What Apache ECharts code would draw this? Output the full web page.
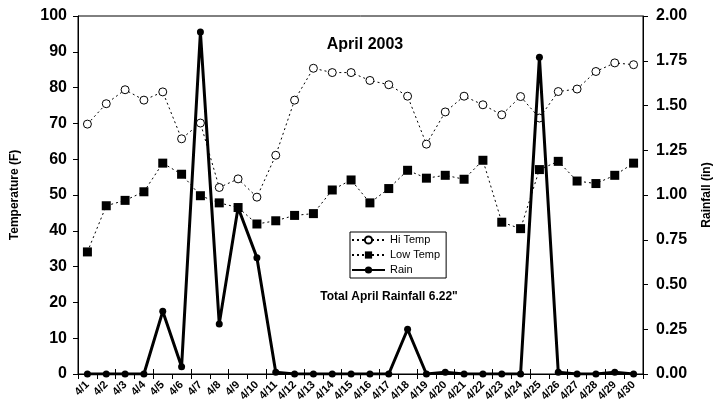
<!DOCTYPE html>
<html><head><meta charset="utf-8">
<script src="https://cdn.jsdelivr.net/npm/echarts@6/dist/echarts.min.js"></script>
<style>html,body{margin:0;padding:0;background:#fff}#c{width:725px;height:413px}</style>
</head><body><div id="c"></div>
<script>
const days = ['4/1','4/2','4/3','4/4','4/5','4/6','4/7','4/8','4/9','4/10','4/11','4/12','4/13','4/14','4/15','4/16','4/17','4/18','4/19','4/20','4/21','4/22','4/23','4/24','4/25','4/26','4/27','4/28','4/29','4/30'];
const hiTemp = [69.8,75.5,79.4,76.5,78.8,65.7,70.1,52.1,54.5,49.4,61.1,76.5,85.4,84.2,84.2,82.0,80.8,77.6,64.2,73.2,77.6,75.2,72.4,77.5,71.5,78.9,79.6,84.5,86.9,86.4];
const lowTemp = [34.1,47.0,48.5,50.9,58.9,55.8,49.8,47.8,46.5,41.9,42.8,44.3,44.8,51.4,54.2,47.8,51.8,56.9,54.7,55.5,54.4,59.7,42.4,40.6,57.1,59.4,53.9,53.2,55.5,58.9];
const rain = [0,0,0,0,0.35,0.04,1.91,0.28,0.93,0.65,0.01,0,0,0,0,0,0,0.25,0,0.01,0,0,0,0,1.77,0.01,0,0,0.01,0];
const tempTicks = {min:0, max:100, interval:10};
const rainTicks = {min:0, max:2, interval:0.25};
const titleText = 'April 2003';
const noteText = 'Total April Rainfall 6.22"';

const F = 'Liberation Sans, Arial, sans-serif';
const chart = echarts.init(document.getElementById('c'));
chart.setOption({
  animation:false,
  backgroundColor:'#fff',
  grid:{left:78,right:82,top:16,bottom:39,show:true,borderColor:'#000',borderWidth:1,outerBoundsMode:'none'},
  title:[
    {text:titleText,left:360,top:32,textAlign:'center',textStyle:{fontFamily:F,fontWeight:'bold',fontSize:16,color:'#000'}},
    {text:noteText,left:384,top:286,textAlign:'center',textStyle:{fontFamily:F,fontWeight:'bold',fontSize:12,color:'#000'}}
  ],
  legend:{
    orient:'vertical',left:350,top:232,
    padding:[2,6,2,1],itemGap:3,itemWidth:33,itemHeight:9,
    borderColor:'#000',borderWidth:1,backgroundColor:'#fff',
    textStyle:{fontFamily:F,fontSize:11,color:'#000',lineHeight:12},
    data:['Hi Temp','Low Temp','Rain']
  },
  xAxis:[
    {type:'category',data:days,boundaryGap:true,
     axisLine:{lineStyle:{color:'#000',width:1}},
     axisTick:{show:true,length:5,lineStyle:{color:'#000'}},
     axisLabel:{rotate:45,interval:0,margin:9,fontFamily:F,fontWeight:'bold',fontSize:11,color:'#000'},
     splitLine:{show:false}},
    {type:'category',data:days,boundaryGap:true,position:'bottom',
     axisLine:{show:false},
     axisTick:{show:true,inside:true,length:5,lineStyle:{color:'#000'}},
     axisLabel:{show:false},splitLine:{show:false}}
  ],
  yAxis:[
    {type:'value',min:tempTicks.min,max:tempTicks.max,interval:tempTicks.interval,
     name:'Temperature (F)',nameLocation:'middle',nameGap:57,nameRotate:90,
     nameTextStyle:{fontFamily:F,fontWeight:'bold',fontSize:12,color:'#000'},
     axisLine:{show:true,lineStyle:{color:'#000'}},
     axisTick:{show:true,length:5,lineStyle:{color:'#000'}},
     axisLabel:{margin:11,fontFamily:F,fontWeight:'bold',fontSize:16,color:'#000'},
     splitLine:{show:false}},
    {type:'value',min:rainTicks.min,max:rainTicks.max,interval:rainTicks.interval,position:'right',
     name:'Rainfall (in)',nameLocation:'middle',nameGap:58,nameRotate:90,
     nameTextStyle:{fontFamily:F,fontWeight:'bold',fontSize:12,color:'#000'},
     axisLine:{show:true,lineStyle:{color:'#000'}},
     axisTick:{show:true,length:5,lineStyle:{color:'#000'}},
     axisLabel:{margin:13,fontFamily:F,fontWeight:'bold',fontSize:16,color:'#000',formatter:v=>v.toFixed(2)},
     splitLine:{show:false}}
  ],
  series:[
    {name:'Hi Temp',type:'line',data:hiTemp,yAxisIndex:0,symbol:'circle',symbolSize:8,
     lineStyle:{color:'#000',width:1,type:[2,3]},
     itemStyle:{color:'#fff',borderColor:'#000',borderWidth:1},z:2},
    {name:'Low Temp',type:'line',data:lowTemp,yAxisIndex:0,symbol:'rect',symbolSize:9,
     lineStyle:{color:'#000',width:1,type:[2,3]},
     itemStyle:{color:'#000'},z:2},
    {name:'Rain',type:'line',data:rain,yAxisIndex:1,symbol:'circle',symbolSize:7,
     lineStyle:{color:'#000',width:3},itemStyle:{color:'#000'},z:3}
  ]
});
</script></body></html>
